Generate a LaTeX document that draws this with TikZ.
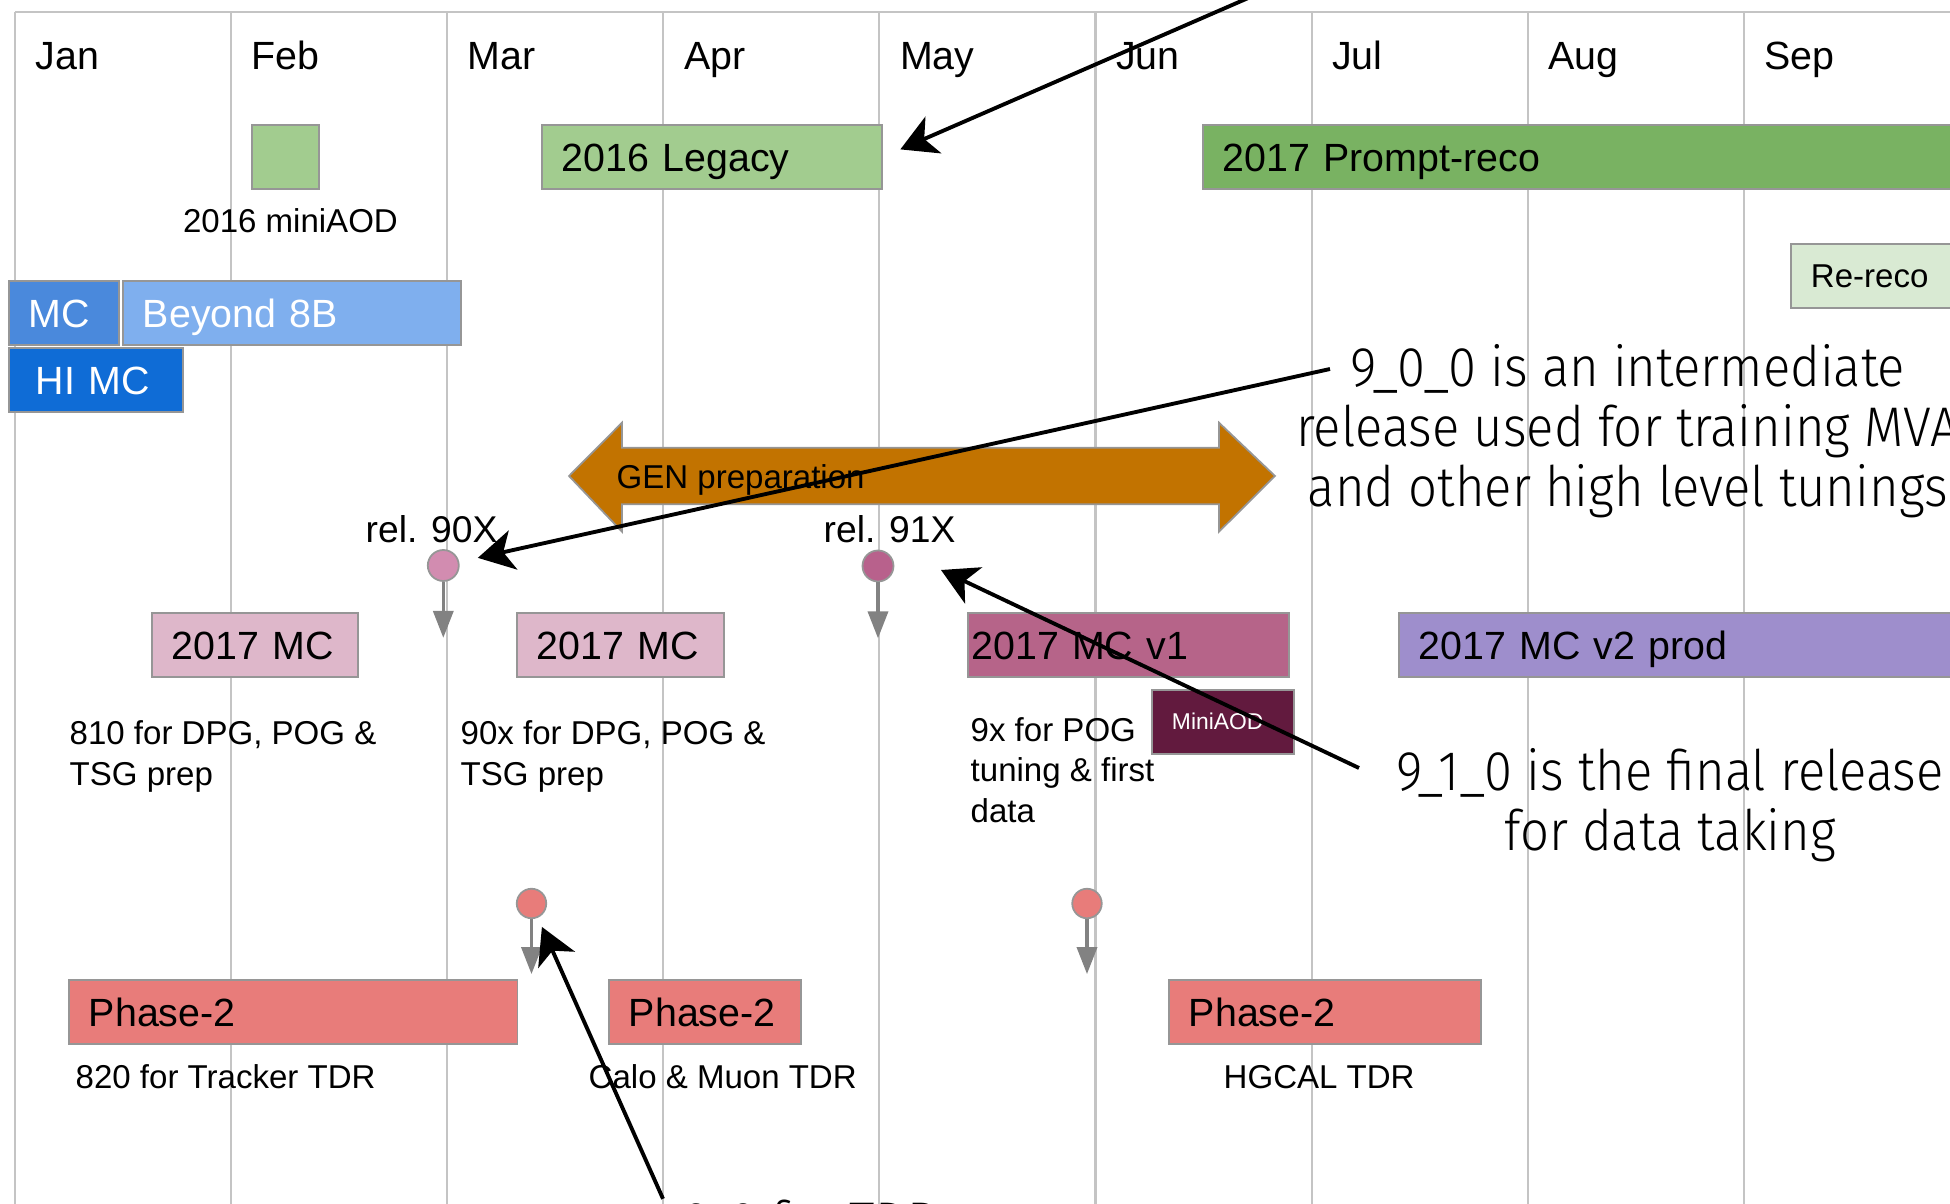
\documentclass[tikz,border=0pt]{standalone}
\usepackage{fontspec}
\setmainfont{Liberation Sans}
\newfontfamily\notefamily[FakeStretch=0.91]{Fira Sans Light}
\usetikzlibrary{arrows.meta,positioning}

\definecolor{gridgray}{RGB}{196,196,196}
\definecolor{edgegray}{RGB}{150,150,150}
\definecolor{pingray}{RGB}{130,130,130}
\definecolor{legacygreen}{RGB}{162,204,143}
\definecolor{promptgreen}{RGB}{121,178,98}
\definecolor{rerecogreen}{RGB}{217,234,211}
\definecolor{mcblue}{RGB}{74,137,220}
\definecolor{beyondblue}{RGB}{127,175,238}
\definecolor{himcblue}{RGB}{15,108,214}
\definecolor{genorange}{RGB}{194,115,0}
\definecolor{mcpink}{RGB}{222,183,202}
\definecolor{pinpink}{RGB}{210,140,176}
\definecolor{pinmag}{RGB}{184,97,140}
\definecolor{mcvone}{RGB}{182,100,137}
\definecolor{miniaod}{RGB}{98,26,62}
\definecolor{mcvtwo}{RGB}{158,142,204}
\definecolor{phasered}{RGB}{232,124,122}

\newcommand\barfnt{\fontsize{11.2}{13.4}\selectfont}
\newcommand\capfnt{\fontsize{9.4}{11.4}\selectfont}
\newcommand\minifnt{\fontsize{6.5}{8}\selectfont}
\newcommand\relfnt{\fontsize{10.6}{12.7}\selectfont}
\newcommand\notefnt{\notefamily\fontsize{15.9}{17.07}\selectfont}

\begin{document}
\begin{tikzpicture}[x=1cm,y=-1cm,
  gridline/.style={draw=gridgray, line width=0.6pt},
  tlbar/.style={draw=edgegray, line width=0.55pt, anchor=north west, minimum height=0.64cm,
    inner xsep=0.2cm, inner ysep=0pt, text width=#1, align=left, font=\barfnt,
    text height=0.283cm, text depth=0pt},
  tlcap/.style={font=\capfnt, anchor=base west, inner sep=0pt, align=left},
  tlmonth/.style={font=\barfnt, anchor=base west, inner sep=0pt},
  tlrel/.style={font=\relfnt, anchor=base west, inner sep=0pt},
  relpin/.style={circle, draw=edgegray, line width=0.5pt, minimum size=0.31cm, inner sep=0pt},
  pindrop/.style={draw=pingray, line width=1pt, -{Triangle[length=0.27cm,width=0.2cm]}},
  tlnote/.style={font=\notefnt, align=center, inner sep=0pt},
  scribble/.style={draw=black, line width=1.1pt, -{Stealth[length=0.36cm,width=0.4cm,inset=0.1cm]}}
]
\useasboundingbox (0,0) rectangle (19.5,12.04);

% month columns
\foreach \m [count=\i from 0] in {Jan,Feb,Mar,Apr,May,Jun,Jul,Aug,Sep}{
  \draw[gridline] (0.15+2.161*\i,0.12) -- (0.15+2.161*\i,12.1);
  \node[tlmonth] (m\i) at (0.35+2.161*\i,0.70) {\m};
}
\draw[gridline] (0.15,0.12) -- (19.6,0.12);

% data
\node[tlbar=0.27cm, fill=legacygreen] (minibox) at (2.51,1.24) {};
\node[tlcap, below=0.18cm of minibox, xshift=0.05cm] (minilab) {2016 miniAOD};
\node[tlbar=3.0cm, fill=legacygreen] (legacy) at (5.41,1.24) {2016 Legacy};
\node[tlbar=7.3cm, fill=promptgreen] (prompt) at (12.02,1.24) {2017 Prompt-reco};
\node[tlbar=1.4cm, fill=rerecogreen, font=\capfnt, text height=0.236cm] (rereco) at (17.90,2.43) {Re-reco};

% MC
\node[tlbar=0.70cm, fill=mcblue, text=white] (mc) at (0.08,2.80) {MC};
\node[tlbar=2.985cm, fill=beyondblue, text=white, right=0.02cm of mc] (beyond) {Beyond 8B};
\node[tlbar=1.20cm, fill=himcblue, text=white, inner xsep=0.27cm, below=0.01cm of mc.south west, anchor=north west] (himc) {HI MC};

% GEN preparation
\filldraw[fill=genorange, draw=edgegray, line width=0.5pt] (5.69,4.76) -- (6.22,4.227) -- (6.22,4.477)
  -- (12.19,4.477) -- (12.19,4.227) -- (12.75,4.76) -- (12.19,5.317) -- (12.19,5.043)
  -- (6.22,5.043) -- (6.22,5.317) -- cycle;
\node[tlcap] (gen) at (6.16,4.88) {GEN preparation};

% releases
\node[relpin, fill=pinpink] (rel90) at (4.433,5.655) {};
\node[relpin, fill=pinmag] (rel91) at (8.78,5.66) {};
\node[tlrel] (lab90) at (3.65,5.42) {rel. 90X};
\node[tlrel] (lab91) at (8.23,5.43) {rel. 91X};
\draw[pindrop] (rel90.south) -- ++(0,0.56);
\draw[pindrop] (rel91.south) -- ++(0,0.56);

\node[tlbar=1.66cm, fill=mcpink] (mc17a) at (1.51,6.12) {2017 MC};
\node[tlbar=1.672cm, fill=mcpink] (mc17b) at (5.156,6.12) {2017 MC};
\node[tlbar=3.14cm, fill=mcvone, inner xsep=0.035cm] (mcv1) at (9.67,6.12) {2017 MC v1};
\node[tlbar=1.02cm, fill=miniaod, text=white, font=\minifnt, text height=0.165cm] (miniaod) at (11.51,6.887) {MiniAOD};
\node[tlbar=5.32cm, fill=mcvtwo] (mcv2) at (13.98,6.12) {2017 MC v2 prod};

% base of a multi-line caption is its last line
\node[tlcap] (cap810) at (0.69,7.85) {810 for DPG, POG \&\\TSG prep};
\node[tlcap] (cap90x) at (4.60,7.85) {90x for DPG, POG \&\\TSG prep};
\node[tlcap] (cap9x) at (9.70,8.22) {9x for POG\\tuning \& first\\data};

% phase-2
\node[relpin, fill=phasered, minimum size=0.295cm] (pinA) at (5.315,9.035) {};
\node[relpin, fill=phasered, minimum size=0.295cm] (pinB) at (10.87,9.035) {};
\draw[pindrop] (pinA.south) -- ++(0,0.55);
\draw[pindrop] (pinB.south) -- ++(0,0.55);
\node[tlbar=4.085cm, fill=phasered] (ph2a) at (0.68,9.79) {Phase-2};
\node[tlbar=1.516cm, fill=phasered] (ph2b) at (6.08,9.79) {Phase-2};
\node[tlbar=2.72cm, fill=phasered] (ph2c) at (11.68,9.79) {Phase-2};
\node[tlcap] (capTrk) at (0.75,10.88) {820 for Tracker TDR};
\node[tlcap] (capCalo) at (5.88,10.88) {Calo \& Muon TDR};
\node[tlcap] (capHgc) at (12.23,10.88) {HGCAL TDR};

% notes
\node[tlnote, anchor=north] (ann900) at (16.28,3.44) {9\_0\_0 is an intermediate\\release used for training MVA\\and other high level tunings};
\node[tlnote, anchor=north] (ann910) at (16.70,7.48) {9\_1\_0 is the final release\\for data taking};
\node[tlnote, anchor=base west] (anntdr) at (6.83,12.41) {9\_0 for TDR};

\coordinate (tailtop) at (12.62,-0.08);
\coordinate (tail900) at (13.30,3.69);
\coordinate (tail910) at (13.59,7.68);
\coordinate (tip91) at (9.41,5.70);
\draw[scribble, shorten >=0.19cm] (tailtop) -- (legacy.east);
\draw[scribble, shorten >=0.19cm] (tail900) -- (rel90);
\draw[scribble] (tail910) -- (tip91);
\draw[scribble, shorten >=0.1cm] ([xshift=-0.2cm]anntdr.north west) -- (pinA);

\end{tikzpicture}
\end{document}
